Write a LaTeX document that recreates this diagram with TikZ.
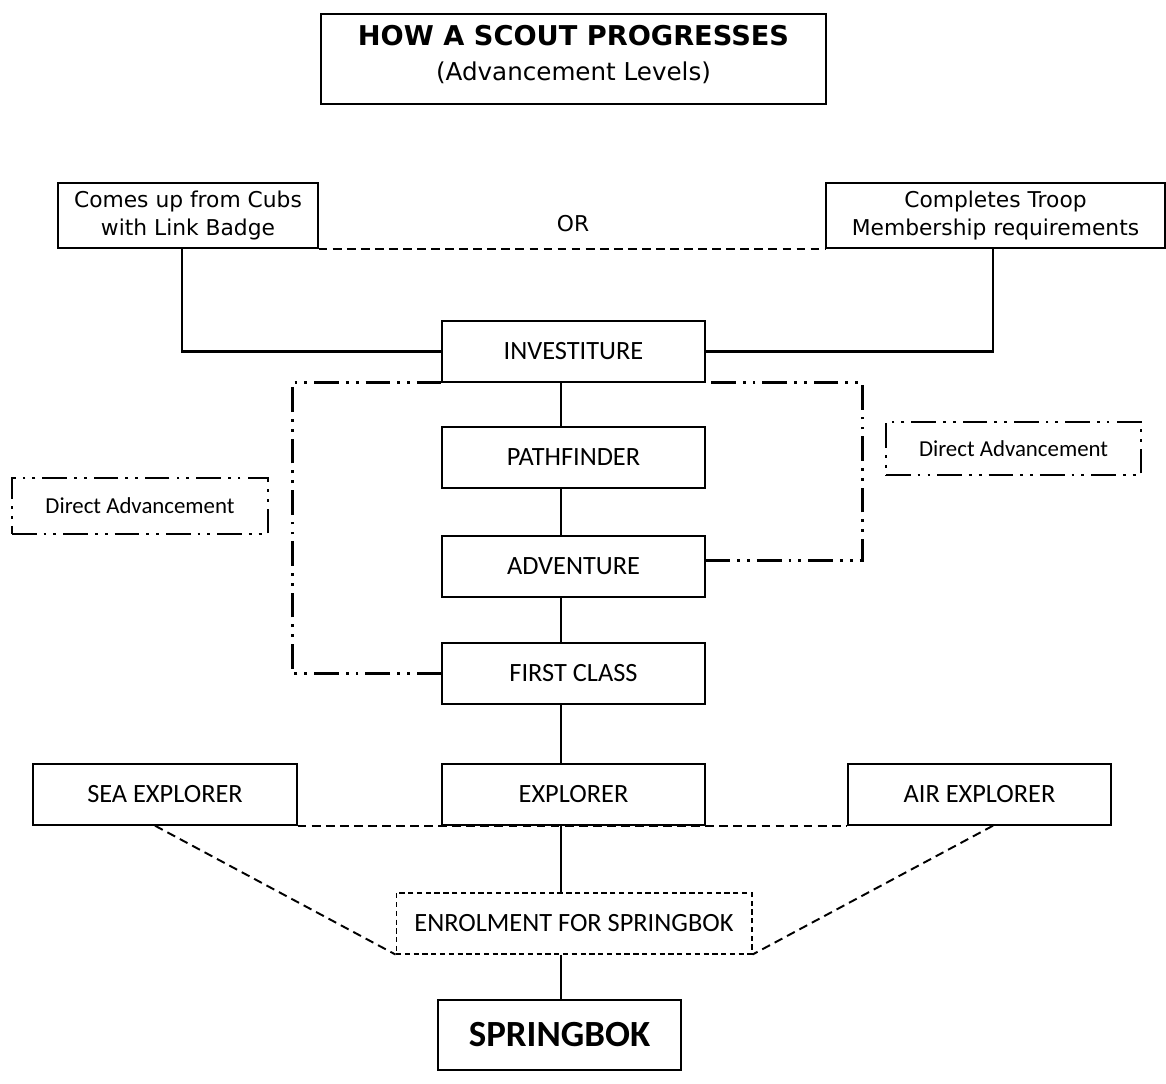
\documentclass[tikz,border=0pt]{standalone}
\usepackage{fontspec}
\setmainfont{Carlito}
\newfontfamily\verd{DejaVu Sans}
\usepackage{tikz}

\begin{document}
\begin{tikzpicture}[x=0.02cm, y=-0.02cm,
    level/.style={draw, line width=0.8pt, inner sep=0pt, minimum width=5.26cm, minimum height=1.22cm, font=\fontsize{15}{18}\selectfont},
    topbox/.style={draw, line width=0.8pt, inner sep=0pt, minimum height=1.3cm, align=center, font=\verd\fontsize{12.4}{16}\selectfont},
    dadot/.style={line width=1.6pt, dash pattern=on 14pt off 4pt on 1.6pt off 4pt on 1.6pt off 4pt},
    direct/.style={draw, dadot, inner sep=0pt, font=\fontsize{13}{15}\selectfont},
    link/.style={line width=1.6pt}]
    \useasboundingbox (0,0) rectangle (1166,1084);
    % title
    \node[draw, line width=0.8pt, minimum width=10.1cm, minimum height=1.8cm, align=center, text depth=7pt,
          font=\verd\fontsize{14}{17.6}\selectfont] (title) at (573.5,59)
        {{\bfseries\fontsize{15.5}{17.6}\selectfont HOW A SCOUT PROGRESSES}\\[2pt](Advancement Levels)};
    % entry
    \node[topbox, minimum width=5.2cm] (cubs) at (188,215.5) {Comes up from Cubs\\with Link Badge};
    \node[topbox, minimum width=6.78cm] (troop) at (995.5,215.5) {Completes Troop\\Membership requirements};
    \node[font=\verd\fontsize{12.4}{14}\selectfont] (or) at (573,224) {OR};
    % levels
    \node[level] (inv) at (573.5,351.5) {INVESTITURE};
    \node[level] (path) at (573.5,457.5) {PATHFINDER};
    \node[level] (adv) at (573.5,566.5) {ADVENTURE};
    \node[level] (first) at (573.5,673.5) {FIRST CLASS};
    \node[level] (expl) at (573.5,794.5) {EXPLORER};
    \node[level, minimum width=5.28cm] (sea) at (165,794.5) {SEA EXPLORER};
    \node[level] (air) at (979.5,794.5) {AIR EXPLORER};
    \node[level, minimum width=7.12cm, line width=0.6pt, dash pattern=on 3pt off 2pt] (enrol) at (574,923.5) {ENROLMENT FOR SPRINGBOK};
    \node[level, minimum width=4.86cm, minimum height=1.4cm, font=\bfseries\fontsize{21}{24}\selectfont] (spring) at (559.5,1035) {SPRINGBOK};
    % direct advancement
    \node[direct, minimum width=5.12cm, minimum height=1.12cm] (dal) at (140,506) {Direct Advancement};
    \node[direct, minimum width=5.1cm, minimum height=1.06cm] (dar) at (1013.5,448.5) {Direct Advancement};

    \coordinate (spine) at (561,0);
    \draw[link] ([xshift=-0.12cm]cubs.south) |- (inv.west);
    \draw[link] ([xshift=-0.05cm]troop.south) |- (inv.east);
    \draw[line width=1.1pt, dash pattern=on 5pt off 3pt] (cubs.south east) -- (troop.south west);
    \draw[link] (inv.south -| spine) -- (path.north -| spine);
    \draw[link] (path.south -| spine) -- (adv.north -| spine);
    \draw[link] (adv.south -| spine) -- (first.north -| spine);
    \draw[link] (first.south -| spine) -- (expl.north -| spine);
    \draw[link] (expl.south -| spine) -- (enrol.north -| spine);
    \draw[link] (enrol.south -| spine) -- (spring.north -| spine);
    \draw[dadot] (first.west) -| ([xshift=-2.98cm]inv.south west) -- (inv.south west);
    \draw[dadot] ([yshift=0.12cm]adv.east) -| ([xshift=3.14cm]inv.south east) -- (inv.south east);
    \draw[line width=1.1pt, dash pattern=on 5pt off 3pt] (sea.south east) -- (air.south west);
    \draw[line width=1.1pt, dash pattern=on 5pt off 3pt] ([xshift=-0.2cm]sea.south) -- (enrol.south west);
    \draw[line width=1.1pt, dash pattern=on 5pt off 3pt] ([xshift=0.27cm]air.south) -- (enrol.south east);
\end{tikzpicture}
\end{document}
